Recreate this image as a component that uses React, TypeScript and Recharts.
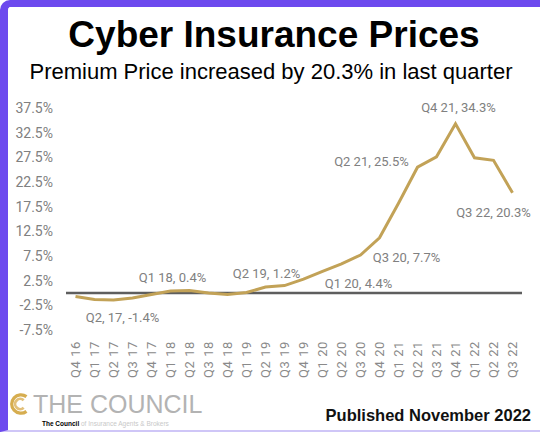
import {
  LabelList,
  Line,
  LineChart,
  ReferenceLine,
  XAxis,
  YAxis,
} from "recharts"

const quarters = [
  "Q4 16", "Q1 17", "Q2 17", "Q3 17", "Q4 17", "Q1 18", "Q2 18", "Q3 18",
  "Q4 18", "Q1 19", "Q2 19", "Q3 19", "Q4 19", "Q1 20", "Q2 20", "Q3 20",
  "Q4 20", "Q1 21", "Q2 21", "Q3 21", "Q4 21", "Q1 22", "Q2 22", "Q3 22",
]

const premiumChange = [
  -0.7, -1.3, -1.4, -1.0, -0.3, 0.4, 0.5, 0.0,
  -0.3, 0.1, 1.2, 1.5, 2.8, 4.4, 5.9, 7.7,
  11.2, 18.2, 25.5, 27.6, 34.3, 27.4, 26.9, 20.3,
]

const yTicks = [-7.5, -2.5, 2.5, 7.5, 12.5, 17.5, 22.5, 27.5, 32.5, 37.5]

// callout text per quarter, as printed on the chart
const calloutQuarters = ["Q2 17", "Q1 18", "Q2 19", "Q1 20", "Q3 20", "Q2 21", "Q4 21", "Q3 22"]
const calloutTexts = [
  "Q2, 17, -1.4%", "Q1 18, 0.4%", "Q2 19, 1.2%", "Q1 20, 4.4%",
  "Q3 20, 7.7%", "Q2 21, 25.5%", "Q4 21, 34.3%", "Q3 22, 20.3%",
]

const data = quarters.map((q, i) => {
  const c = calloutQuarters.indexOf(q)
  return { q, value: premiumChange[i], callout: c >= 0 ? calloutTexts[c] : "" }
})

// where each callout sits relative to its point
const calloutOffset: Record<string, [number, number]> = {
  "Q2 17": [9, 18],
  "Q1 18": [2, -14],
  "Q2 19": [1, -14],
  "Q1 20": [36, 12],
  "Q3 20": [46, 2],
  "Q2 21": [-46, -6],
  "Q4 21": [3, -16],
  "Q3 22": [-19, 20],
}

const GRAY = "#808080"
const GOLD = "#c2a257"

function Callout(props: any) {
  const { x, y, value, index } = props
  if (!value) return null
  const off = calloutOffset[quarters[index]] ?? [0, -12]
  return (
    <text
      x={x + off[0]}
      y={y + off[1]}
      textAnchor="middle"
      dominantBaseline="central"
      fill={GRAY}
      fontSize={13}
      fontFamily="Roboto, sans-serif"
    >
      {value}
    </text>
  )
}

function QuarterTick(props: any) {
  const { x, y, payload } = props
  return (
    <g transform={`translate(${x},${y + 3}) rotate(-90)`}>
      <text
        textAnchor="end"
        dy="0.35em"
        fill="#8a8a8a"
        fontSize={13}
        fontFamily="Roboto, sans-serif"
        letterSpacing={0.6}
      >
        {payload.value}
      </text>
    </g>
  )
}

function CouncilLogo() {
  return (
    <svg width={24} height={24} viewBox="0 0 26 26">
      <path d="M20 5 A10 10 0 1 0 20 21" fill="none" stroke="#d6ad4f" strokeWidth={3.5} />
      <path d="M17 9 A5.5 5.5 0 1 0 17 17" fill="none" stroke="#e2c07a" strokeWidth={3} />
    </svg>
  )
}

export default function App() {
  return (
    <div
      style={{
        position: "absolute",
        left: 0,
        top: 0,
        width: 540,
        height: 432,
        background: "#fff",
        boxSizing: "border-box",
        borderTop: "7px solid #6d4aee",
        borderLeft: "8px solid #6d4aee",
        borderBottom: "2px solid #cfc6f7",
        borderTopLeftRadius: 10,
        overflow: "hidden",
        fontFamily: "'Liberation Sans', Arial, sans-serif",
      }}
    >
      <div style={{ position: "absolute", left: -8, top: -7, width: 540, height: 432 }}>
        <LineChart
          width={540}
          height={432}
          data={data}
          margin={{ top: 108, right: 18, bottom: 52, left: 10 }}
        >
          <XAxis
            dataKey="q"
            interval={0}
            axisLine={false}
            tickLine={false}
            height={50}
            padding={{ left: 9.5, right: 9.5 }}
            tick={<QuarterTick />}
          />
          <XAxis xAxisId="frame" type="number" domain={[0, 1]} hide />
          <YAxis
            domain={[-7.5, 37.5]}
            ticks={yTicks}
            width={56}
            axisLine={false}
            tickLine={false}
            tickMargin={7}
            tickFormatter={(v: number) => `${v}%`}
            tick={{ fill: GRAY, fontSize: 14, fontFamily: "Roboto, sans-serif" }}
          />
          <ReferenceLine y={0} xAxisId="frame" stroke="#5e5e5e" strokeWidth={2.5} />
          <Line
            type="linear"
            dataKey="value"
            stroke={GOLD}
            strokeWidth={3}
            dot={false}
            isAnimationActive={false}
          >
            <LabelList dataKey="callout" content={<Callout />} />
          </Line>
        </LineChart>

        <div
          style={{
            position: "absolute",
            left: 0,
            width: 548,
            top: 14,
            textAlign: "center",
            fontSize: 37,
            fontWeight: 700,
            color: "#000",
            lineHeight: "42px",
          }}
        >
          Cyber Insurance Prices
        </div>
        <div
          style={{
            position: "absolute",
            left: 0,
            width: 542,
            top: 59,
            textAlign: "center",
            fontSize: 22,
            color: "#000",
            lineHeight: "26px",
          }}
        >
          Premium Price increased by 20.3% in last quarter
        </div>

        <div style={{ position: "absolute", left: 8, top: 391, display: "flex", alignItems: "center" }}>
          <CouncilLogo />
          <span
            style={{
              fontSize: 25,
              color: "#b3b3b3",
              fontWeight: 300,
              marginLeft: 1,
              lineHeight: "26px",
            }}
          >
            THE COUNCIL
          </span>
        </div>
        <div
          style={{
            position: "absolute",
            left: 42,
            top: 419,
            fontSize: 6.5,
            whiteSpace: "nowrap",
            lineHeight: "9px",
          }}
        >
          <span style={{ fontWeight: 700, color: "#000" }}>The Council</span>
          <span style={{ color: "#c8c8c8" }}> of Insurance Agents &amp; Brokers</span>
        </div>
        <div
          style={{
            position: "absolute",
            right: 9,
            top: 406,
            fontSize: 16.5,
            fontWeight: 700,
            color: "#111",
            whiteSpace: "nowrap",
          }}
        >
          Published November 2022
        </div>
      </div>
    </div>
  )
}
